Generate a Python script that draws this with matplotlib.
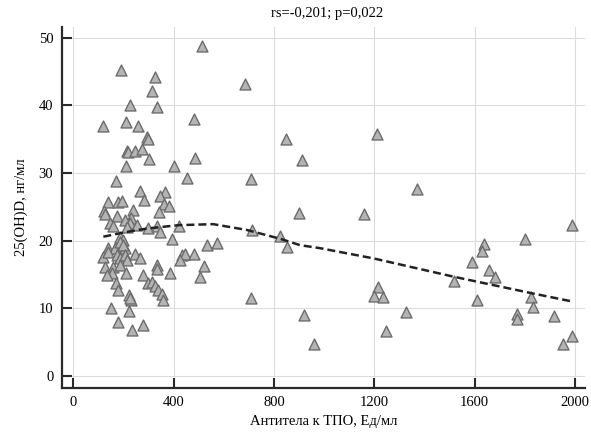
import matplotlib.pyplot as plt

# antibody to TPO (U/ml) and 25(OH)D (ng/ml)
tpo = [513, 191, 326, 312, 685, 226, 334, 480, 120, 210, 257, 293, 299, 848,
       213, 219, 245, 274, 302, 484, 913, 211, 402, 169, 455, 709, 266, 366,
       346, 283, 138, 179, 195, 362, 383, 237, 121, 128, 175, 230, 340, 900,
       146, 160, 206, 226, 213, 253, 297, 335, 346, 421, 392, 711, 186, 199,
       532, 572, 140, 166, 193, 206, 186, 199, 120, 140, 173, 186, 206, 213,
       246, 266, 126, 160, 153, 133, 186, 211, 279, 333, 333, 386, 432, 445,
       425, 481, 521, 505, 171, 180, 299, 313, 326, 339, 352, 359, 223, 230,
       226, 709, 150, 223, 179, 279, 233, 919, 960, 824, 852,
       1211, 1369, 1160, 1987, 1801, 1639, 1630, 1590, 1659, 1679, 1518,
       1214, 1199, 1235, 1610, 1825, 1833, 1327, 1768, 1769, 1918, 1247,
       1988, 1951]
vitd = [48.7, 45.2, 44.2, 42.1, 43.1, 40.0, 39.7, 38.0, 37.0, 37.6, 37.0, 35.3,
        35.0, 35.0, 33.2, 33.1, 33.2, 33.6, 32.0, 32.2, 31.9, 31.0, 31.1, 28.8,
        29.3, 29.1, 27.3, 27.2, 26.6, 26.0, 25.7, 25.7, 25.9, 25.4, 25.1, 24.5,
        24.4, 24.0, 23.6, 23.4, 24.2, 24.1, 22.6, 22.2, 23.1, 22.6, 22.0, 22.3,
        21.9, 22.2, 21.3, 22.2, 20.3, 21.6, 20.6, 20.1, 19.3, 19.7, 19.0, 19.0,
        19.4, 19.0, 19.8, 19.4, 17.6, 18.4, 17.9, 17.4, 17.9, 17.1, 18.1, 17.4,
        16.1, 16.1, 15.2, 14.9, 16.4, 15.3, 14.9, 16.4, 15.8, 15.3, 17.9, 18.1,
        17.1, 18.1, 16.3, 14.7, 13.7, 12.8, 13.7, 13.9, 13.3, 12.8, 12.2, 11.3,
        12.0, 11.2, 11.5, 11.5, 10.0, 9.6, 8.0, 7.6, 6.8, 9.0, 4.8, 20.7, 19.1,
        35.8, 27.7, 24.0, 22.3, 20.2, 19.5, 18.5, 16.8, 15.7, 14.7, 14.1,
        13.2, 11.8, 11.7, 11.3, 11.7, 10.2, 9.5, 9.2, 8.4, 8.9, 6.7,
        5.9, 4.7]

# smoothed trend line
trend_x = [120, 213, 293, 419, 558, 691, 824, 904, 984, 1196, 1515, 1834, 1980]
trend_y = [20.6, 21.3, 21.8, 22.3, 22.45, 21.6, 20.3, 19.35, 18.9, 17.4, 14.7, 12.2, 11.1]

xticks = [0, 400, 800, 1200, 1600, 2000]
yticks = [0, 10, 20, 30, 40, 50]

plt.rcParams['font.family'] = ['Liberation Serif', 'DejaVu Serif']

fig = plt.figure(figsize=(5.91, 4.37), dpi=100)
ax = fig.add_axes([0.1044, 0.1128, 0.8856, 0.826])

ax.scatter(tpo, vitd, marker='^', s=62, facecolor='#b4b4b4',
           edgecolor='#6c6c6c', linewidth=1.0, zorder=3)
ax.plot(trend_x, trend_y, color='#222222', linestyle=(0, (3.2, 1.6)),
        linewidth=1.8, zorder=4)

ax.set_xlim(-46, 2040)
ax.set_ylim(-1.7, 51.6)
ax.set_xticks(xticks)
ax.set_yticks(yticks)
ax.grid(True, color='#dcdcdc', linewidth=0.8)
ax.set_axisbelow(True)

for side in ['top', 'right']:
    ax.spines[side].set_visible(False)
for side in ['left', 'bottom']:
    ax.spines[side].set_linewidth(1.6)
    ax.spines[side].set_color('#2a2a2a')

ax.tick_params(direction='in', length=7, width=1.5, color='#2a2a2a',
               labelsize=10.5, pad=6)

ax.set_xlabel('Антитела к ТПО, Ед/мл', fontsize=10.5)
ax.set_ylabel('25(OH)D, нг/мл', fontsize=10.5, labelpad=8)
fig.text(327 / 591, 1 - 14 / 437, 'rs=-0,201; p=0,022', ha='center',
         va='center', fontsize=10.5)

fig.savefig('out.png', dpi=100)
